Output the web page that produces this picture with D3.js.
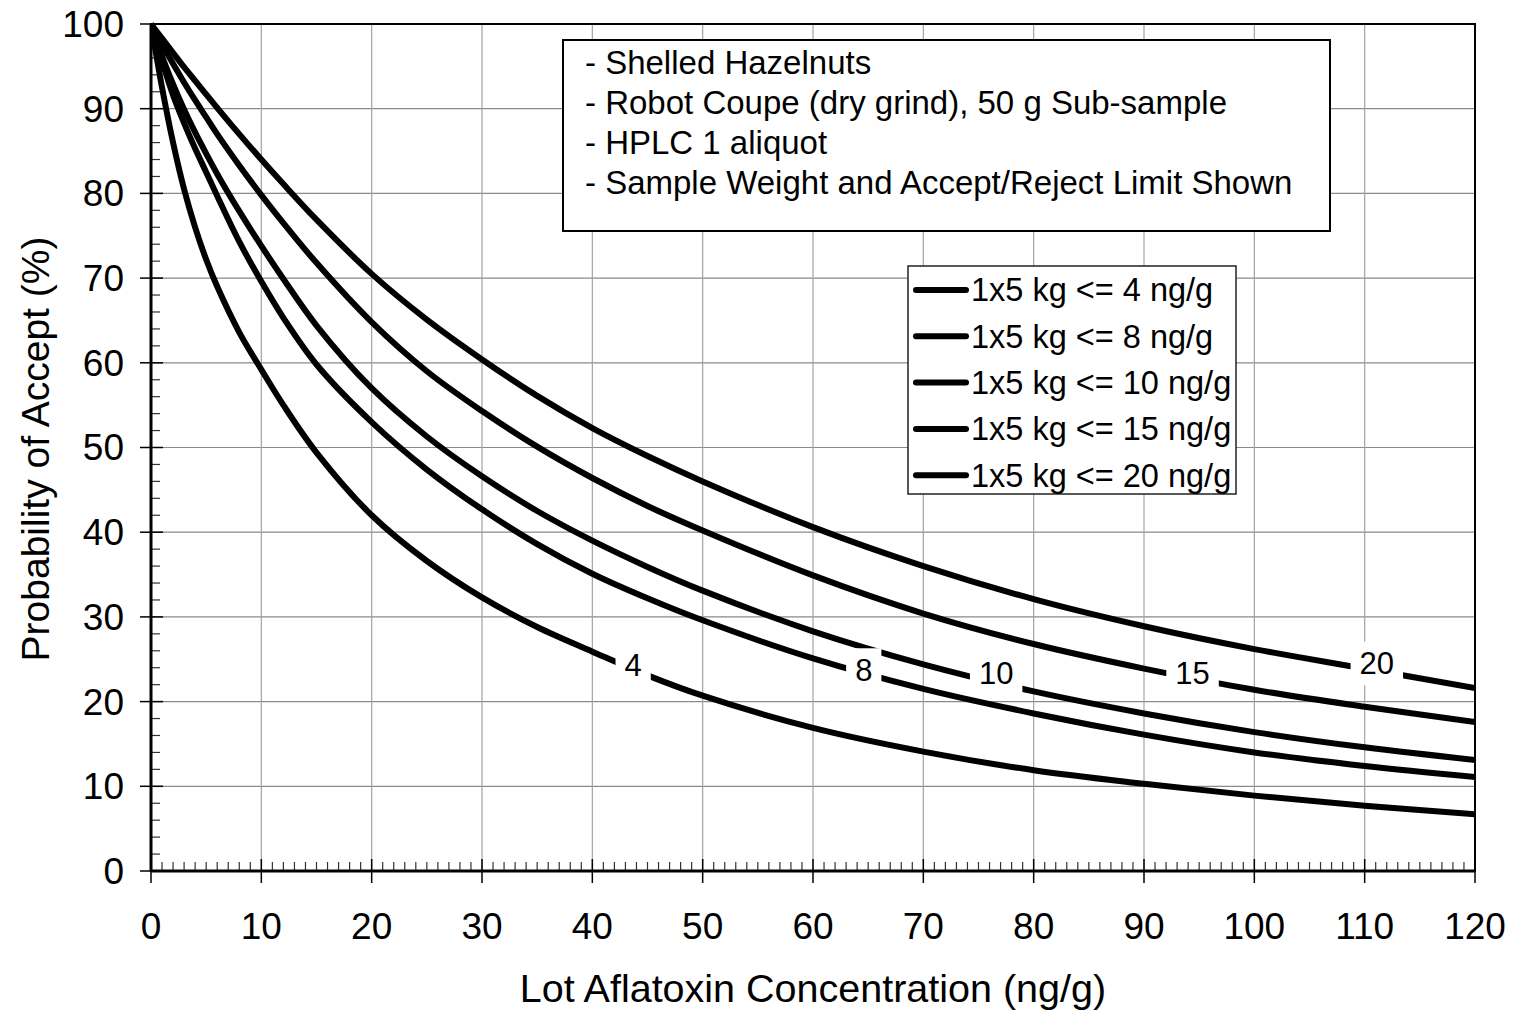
<!DOCTYPE html>
<html>
<head>
<meta charset="utf-8">
<script src="https://cdn.jsdelivr.net/npm/d3@7"></script>
<style>
  html, body { margin: 0; padding: 0; background: #fff; }
  svg { display: block; font-family: "Liberation Sans", Arial, sans-serif; }
</style>
</head>
<body>
<svg id="chart" width="1514" height="1010"></svg>
<script>
// ---------- DATA ----------
const concentration = [0,1,2,3,4,5,6,8,10,12,15,20,25,30,35,40,45,50,60,70,80,90,100,110,120];
const limit4  = [100,92.5,86,80.5,76,72.2,69,63.6,59.2,55.0,49.4,42.0,36.6,32.3,28.8,25.9,23.1,20.7,16.9,14.1,11.9,10.3,8.9,7.7,6.7];
const limit8  = [100,95.6,91.6,88.3,85.3,82.5,79.7,74.3,69.6,65.3,59.8,53.0,47.4,42.7,38.6,35.1,32.2,29.6,25.1,21.5,18.6,16.1,14.0,12.4,11.1];
const limit10 = [100,96.2,92.9,89.9,87.2,84.7,82.3,77.9,73.8,69.9,64.4,57.0,51.3,46.6,42.5,39.0,35.9,33.1,28.3,24.4,21.2,18.6,16.4,14.6,13.1];
const limit15 = [100,97.6,95.3,93.1,91.0,89.0,87.0,83.3,79.8,76.5,71.8,64.8,59.0,54.3,50.1,46.4,43.1,40.2,34.9,30.4,26.8,23.9,21.4,19.4,17.6];
const limit20 = [100,98.3,96.6,94.9,93.3,91.7,90.1,87.0,84.0,81.1,76.9,70.5,65.1,60.4,56.1,52.3,49.0,46.0,40.6,36.0,32.1,28.9,26.2,23.9,21.6];
const seriesNames = ["1x5 kg <= 4 ng/g","1x5 kg <= 8 ng/g","1x5 kg <= 10 ng/g","1x5 kg <= 15 ng/g","1x5 kg <= 20 ng/g"];
const curveLabels = ["4","8","10","15","20"];
const curveLabelX = [43.7, 64.6, 76.6, 94.4, 111.1];
const curveLabelY = [24.3, 23.7, 23.3, 23.3, 24.5];
const xTicks = [0,10,20,30,40,50,60,70,80,90,100,110,120];
const yTicks = [0,10,20,30,40,50,60,70,80,90,100];
const noteLines = ["- Shelled Hazelnuts","- Robot Coupe (dry grind), 50 g Sub-sample","- HPLC 1 aliquot","- Sample Weight and Accept/Reject Limit Shown"];
const xTitle = "Lot Aflatoxin Concentration (ng/g)";
const yTitle = "Probability of Accept (%)";

const allSeries = [limit4, limit8, limit10, limit15, limit20];

// ---------- LAYOUT ----------
const svg = d3.select("#chart");
const L = 151, R = 1475, T = 24, B = 871;
const x = d3.scaleLinear().domain([0,120]).range([L,R]);
const y = d3.scaleLinear().domain([0,100]).range([B,T]);

// gridlines
const grid = svg.append("g");
grid.selectAll("line.h").data(yTicks.filter(d => d > 0 && d < 100)).join("line")
  .attr("x1", L).attr("x2", R).attr("y1", d => y(d)).attr("y2", d => y(d))
  .attr("stroke", "#8a8a8a").attr("stroke-width", 1.2);
grid.selectAll("line.v").data(xTicks.filter(d => d > 0 && d < 120)).join("line")
  .attr("y1", T).attr("y2", B).attr("x1", d => x(d)).attr("x2", d => x(d))
  .attr("stroke", "#a3a3a3").attr("stroke-width", 1.2);

// minor ticks
const minorX = d3.range(0,121,1).filter(d => d % 10 !== 0);
svg.append("g").selectAll("line").data(minorX).join("line")
  .attr("x1", d => x(d)).attr("x2", d => x(d)).attr("y1", B).attr("y2", B - 9)
  .attr("stroke", "#333").attr("stroke-width", 1.2);
const minorY = d3.range(0,101,2).filter(d => d % 10 !== 0);
svg.append("g").selectAll("line").data(minorY).join("line")
  .attr("y1", d => y(d)).attr("y2", d => y(d)).attr("x1", L).attr("x2", L + 9)
  .attr("stroke", "#333").attr("stroke-width", 1.2);
// major ticks
svg.append("g").selectAll("line").data(xTicks).join("line")
  .attr("x1", d => x(d)).attr("x2", d => x(d)).attr("y1", B - 12).attr("y2", B + 12)
  .attr("stroke", "#000").attr("stroke-width", 1.5);
svg.append("g").selectAll("line").data(yTicks).join("line")
  .attr("y1", d => y(d)).attr("y2", d => y(d)).attr("x1", L - 11).attr("x2", L + 12)
  .attr("stroke", "#000").attr("stroke-width", 1.5);

// note box
const note = svg.append("g");
note.append("rect").attr("x", 563).attr("y", 40).attr("width", 767).attr("height", 191)
  .attr("fill", "#fff").attr("stroke", "#000").attr("stroke-width", 2);
note.selectAll("text").data(noteLines).join("text")
  .attr("x", 585).attr("y", (d,i) => 62 + i*40).attr("dy", "0.35em")
  .attr("font-size", 33).attr("fill", "#000").text(d => d);

// curves
svg.append("clipPath").attr("id","plotclip").append("rect")
  .attr("x", L).attr("y", T - 3).attr("width", R - L).attr("height", B - T + 3);
const line = d3.line().x(d => x(d[0])).y(d => y(d[1])).curve(d3.curveCatmullRom.alpha(0.5));
svg.append("g").attr("clip-path","url(#plotclip)").selectAll("path").data(allSeries).join("path")
  .attr("d", s => line(concentration.map((c,i) => [c, s[i]])))
  .attr("fill","none").attr("stroke","#000").attr("stroke-width",6).attr("stroke-linejoin","round");

// curve labels with white background
const lab = svg.append("g");
curveLabels.forEach((t,i) => {
  const cx = x(curveLabelX[i]), cy = y(curveLabelY[i]);
  const txt = lab.append("text").attr("x", cx).attr("y", cy).attr("dy","0.35em")
    .attr("text-anchor","middle").attr("font-size", 31).text(t);
  const w = txt.node().getComputedTextLength();
  lab.insert("rect","text").attr("x", cx - w/2 - 9).attr("y", cy - 22)
    .attr("width", w + 18).attr("height", 44).attr("fill","#fff");
});
lab.selectAll("text").raise();

// frame
svg.append("rect").attr("x", L).attr("y", T).attr("width", R - L).attr("height", B - T)
  .attr("fill","none").attr("stroke","#000").attr("stroke-width",2);
svg.append("line").attr("x1", L).attr("x2", L).attr("y1", T).attr("y2", B)
  .attr("stroke","#000").attr("stroke-width",3);
svg.append("line").attr("x1", L).attr("x2", R).attr("y1", B).attr("y2", B)
  .attr("stroke","#000").attr("stroke-width",3);

// legend
const lg = svg.append("g");
lg.append("rect").attr("x", 908).attr("y", 266).attr("width", 328).attr("height", 228)
  .attr("fill","#fff").attr("stroke","#222").attr("stroke-width",1.5);
seriesNames.forEach((n,i) => {
  const yy = 290 + i*46.3;
  lg.append("line").attr("x1", 916).attr("x2", 966).attr("y1", yy).attr("y2", yy)
    .attr("stroke","#000").attr("stroke-width",6).attr("stroke-linecap","round");
  lg.append("text").attr("x", 971).attr("y", yy).attr("dy","0.35em")
    .attr("font-size", 32.5).text(n);
});

// tick labels
svg.append("g").selectAll("text").data(xTicks).join("text")
  .attr("x", d => x(d)).attr("y", 926).attr("dy","0.35em").attr("text-anchor","middle")
  .attr("font-size", 37).text(d => d);
svg.append("g").selectAll("text").data(yTicks).join("text")
  .attr("x", 124).attr("y", d => y(d)).attr("dy","0.35em").attr("text-anchor","end")
  .attr("font-size", 37).text(d => d);

// titles
svg.append("text").attr("x", 813).attr("y", 988).attr("dy","0.35em").attr("text-anchor","middle")
  .attr("font-size", 39.5).text(xTitle);
svg.append("text").attr("transform","translate(35,449) rotate(-90)").attr("dy","0.35em")
  .attr("text-anchor","middle").attr("font-size", 39).text(yTitle);
</script>
</body>
</html>
